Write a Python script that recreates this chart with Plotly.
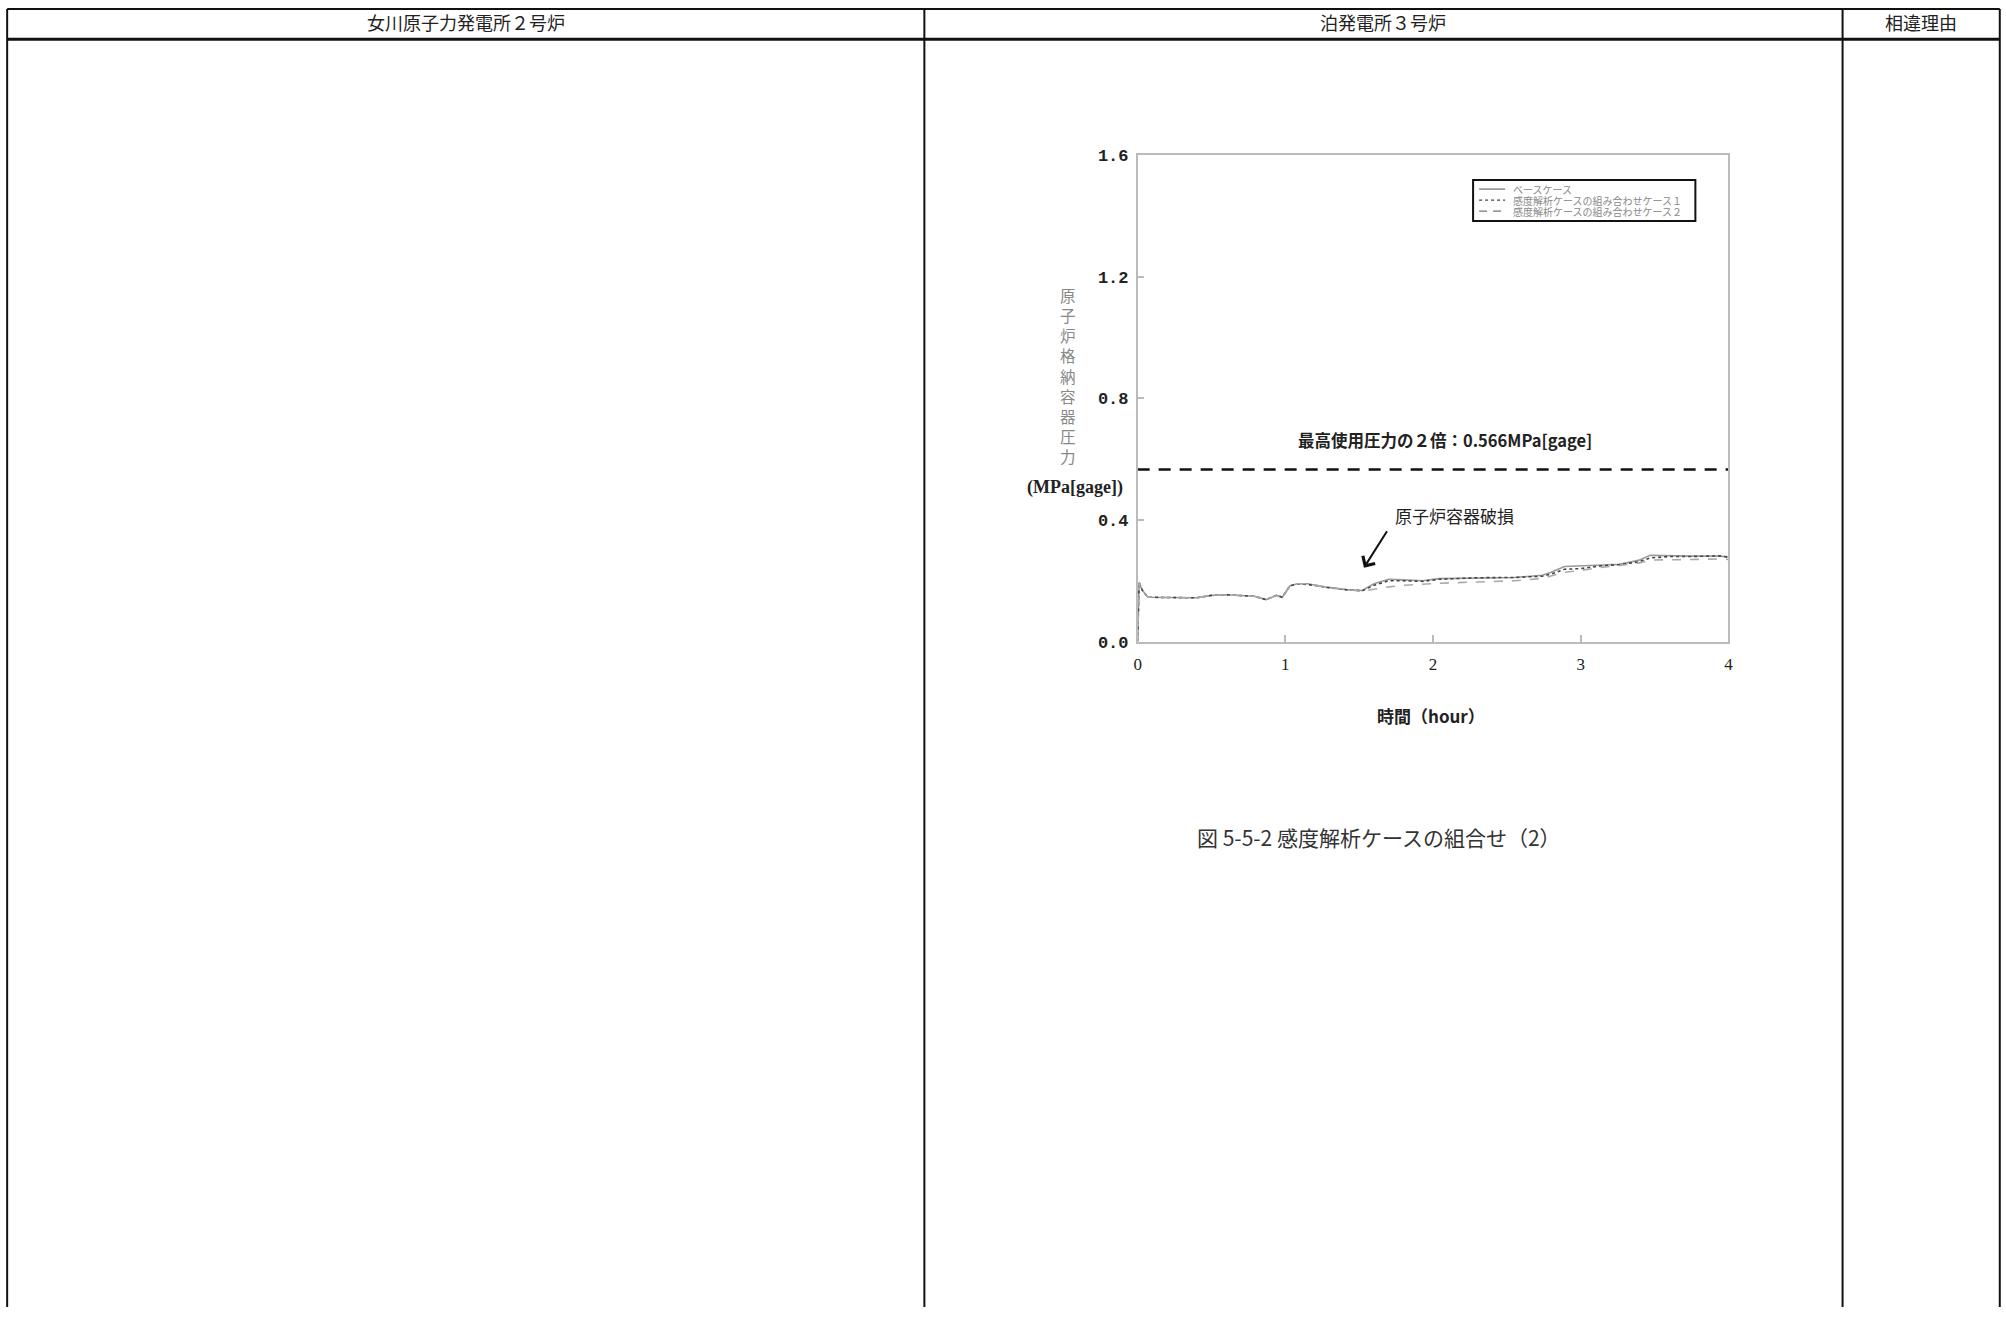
import plotly.graph_objects as go

W, H = 2006, 1318

# ---- data ----
time_h = [0, 0.01, 0.03, 0.07, 0.2, 0.4, 0.5, 0.6, 0.79, 0.87, 0.94, 0.98, 1.03, 1.08,
          1.15, 1.28, 1.41, 1.52, 1.6, 1.7, 1.8, 1.93, 2.04, 2.3, 2.55, 2.74, 2.8, 2.89,
          3.0, 3.15, 3.26, 3.39, 3.47, 3.6, 3.75, 3.94, 4.0]
base_case = [0.0, 0.195, 0.17, 0.146, 0.145, 0.144, 0.152, 0.154, 0.149, 0.138, 0.152, 0.146,
             0.183, 0.19, 0.19, 0.179, 0.171, 0.168, 0.19, 0.205, 0.203, 0.2, 0.207, 0.209,
             0.211, 0.218, 0.228, 0.247, 0.25, 0.252, 0.254, 0.267, 0.284, 0.282, 0.281,
             0.281, 0.278]
combo_case1 = [0.0, 0.195, 0.17, 0.146, 0.145, 0.144, 0.152, 0.154, 0.149, 0.138, 0.152, 0.146,
               0.183, 0.19, 0.188, 0.178, 0.171, 0.167, 0.185, 0.2, 0.2, 0.198, 0.205, 0.21,
               0.211, 0.215, 0.222, 0.238, 0.24, 0.25, 0.253, 0.262, 0.275, 0.28, 0.28,
               0.282, 0.278]
combo_case2 = [0.0, 0.195, 0.17, 0.146, 0.145, 0.144, 0.152, 0.154, 0.149, 0.138, 0.152, 0.146,
               0.183, 0.19, 0.19, 0.179, 0.171, 0.166, 0.172, 0.18, 0.185, 0.19, 0.192, 0.196,
               0.2, 0.208, 0.215, 0.228, 0.234, 0.245, 0.25, 0.258, 0.268, 0.27, 0.27,
               0.272, 0.27]
limit_value = 0.566
series_names = ["ベースケース", "感度解析ケースの組み合わせケース１", "感度解析ケースの組み合わせケース２"]
x_ticks = [0, 1, 2, 3, 4]
y_ticks = [0.0, 0.4, 0.8, 1.2, 1.6]
headers = ["女川原子力発電所２号炉", "泊発電所３号炉", "相違理由"]

CJK = "Noto Sans CJK JP"
SERIF = "Liberation Serif"
MONO = "Liberation Mono"


# page-pixel targets -> paper fractions (small calibration for the capture)
def px(x):
    return ((x - 3.85) / 0.9942) / W


def py(y):
    return 1 - ((y - 7.7) / 0.9867) / H


series_styles = [dict(color="#9a9a9a", width=1.6, dash="solid"),
                 dict(color="#444444", width=1.6, dash="dot"),
                 dict(color="#aaaaaa", width=1.6, dash="dash")]

fig = go.Figure()
for name, vals, st in zip(series_names, [base_case, combo_case1, combo_case2], series_styles):
    fig.add_trace(go.Scatter(x=time_h, y=vals, mode="lines", name=name, line=st, showlegend=False))
fig.add_trace(go.Scatter(x=[0, 4], y=[limit_value, limit_value], mode="lines",
                         showlegend=False, hoverinfo="skip",
                         line=dict(color="#111111", width=2.5, dash="12px,9px")))

# table lines
shapes = []
line_k = dict(color="#111111", width=2)
X_LEFT, X_RIGHT = max(px(7), 1.0 / W), px(1997)
Y_TOP, Y_BOT = min(py(4.5), 1 - 1.0 / H), 0
shapes.append(dict(type="line", xref="paper", yref="paper", x0=X_LEFT, x1=X_RIGHT, y0=Y_TOP, y1=Y_TOP, line=line_k))
shapes.append(dict(type="line", xref="paper", yref="paper", x0=X_LEFT, x1=X_RIGHT, y0=py(39), y1=py(39),
                   line=dict(color="#111111", width=3)))
for xv in [X_LEFT, px(923), px(1840), X_RIGHT]:
    shapes.append(dict(type="line", xref="paper", yref="paper", x0=xv, x1=xv, y0=Y_TOP, y1=Y_BOT,
                       line=line_k))

# legend box drawn by hand (compact, like the reference)
shapes.append(dict(type="rect", xref="paper", yref="paper", x0=px(1471), x1=px(1693), y0=py(180), y1=py(221),
                   line=dict(color="#111111", width=2), fillcolor="white", layer="above"))
legend_rows = [189, 200, 211]
legend_line_styles = [dict(color="#777777", width=1.3, dash="solid"),
                      dict(color="#444444", width=1.3, dash="dot"),
                      dict(color="#777777", width=1.3, dash="8px,6px")]

annotations = []
for name, yr, st in zip(series_names, legend_rows, legend_line_styles):
    shapes.append(dict(type="line", xref="paper", yref="paper", x0=px(1477), x1=px(1503),
                       y0=py(yr), y1=py(yr), line=st, layer="above"))
    annotations.append(dict(text=name, xref="paper", yref="paper", x=px(1509), y=py(yr),
                            showarrow=False, xanchor="left", yanchor="middle",
                            font=dict(family=CJK, size=10, color="#888888")))

for txt, xc in zip(headers, [465, 1381, 1918]):
    annotations.append(dict(text=txt, xref="paper", yref="paper", x=px(xc), y=py(22),
                            showarrow=False, xanchor="center", yanchor="middle",
                            font=dict(family=CJK, size=18, color="#222222")))

# vertical y-axis label
annotations.append(dict(text="<br>".join(list("原子炉格納容器圧力")), xref="paper", yref="paper",
                        x=px(1066), y=py(376), showarrow=False, xanchor="center", yanchor="middle",
                        font=dict(family=CJK, size=15.5, color="#888888")))
annotations.append(dict(text="<b>(MPa[gage])</b>", xref="paper", yref="paper", x=px(1073), y=py(488),
                        showarrow=False, xanchor="center", yanchor="middle",
                        font=dict(family=SERIF, size=18, color="#222222")))
annotations.append(dict(text="<b>最高使用圧力の２倍：0.566MPa[gage]</b>", xref="paper", yref="paper",
                        x=px(1443), y=py(440), showarrow=False, xanchor="center", yanchor="middle",
                        font=dict(family=CJK, size=16.5, color="#222222")))
annotations.append(dict(text="原子炉容器破損", xref="paper", yref="paper", x=px(1452), y=py(516),
                        showarrow=False, xanchor="center", yanchor="middle",
                        font=dict(family=CJK, size=17, color="#222222")))
annotations.append(dict(text="", xref="paper", yref="paper", x=px(1362), y=py(568),
                        showarrow=True, ax=24, ay=-38, arrowhead=4, arrowsize=1.4, arrowwidth=2,
                        arrowcolor="#111111"))
annotations.append(dict(text="<b>時間（hour）</b>", xref="paper", yref="paper", x=px(1429), y=py(716),
                        showarrow=False, xanchor="center", yanchor="middle",
                        font=dict(family=CJK, size=17, color="#222222")))
annotations.append(dict(text="図 5-5-2 感度解析ケースの組合せ（2）", xref="paper", yref="paper",
                        x=px(1377), y=py(838), showarrow=False, xanchor="center", yanchor="middle",
                        font=dict(family=CJK, size=21, color="#333333")))

fig.update_layout(
    width=W, height=H, autosize=False,
    margin=dict(l=0, r=0, t=0, b=0, pad=0),
    paper_bgcolor="white", plot_bgcolor="white",
    shapes=shapes, annotations=annotations,
    showlegend=False,
    xaxis=dict(domain=[px(1136), px(1726)], range=[0, 4], tickvals=x_ticks,
               ticktext=[str(v) for v in x_ticks], showgrid=False, zeroline=False,
               showline=True, linecolor="#bbbbbb", linewidth=1.5, mirror=True,
               ticks="inside", ticklen=7, tickcolor="#bbbbbb", tickwidth=1.5,
               tickfont=dict(family=SERIF, size=17, color="#222222"), ticklabelstandoff=6),
    yaxis=dict(domain=[py(642), py(155)], range=[0, 1.6], tickvals=y_ticks,
               ticktext=["<b>%.1f</b>" % v for v in y_ticks], showgrid=False, zeroline=False,
               showline=True, linecolor="#bbbbbb", linewidth=1.5, mirror=True,
               ticks="inside", ticklen=7, tickcolor="#bbbbbb", tickwidth=1.5,
               tickfont=dict(family=MONO, size=17, color="#222222"), ticklabelstandoff=4),
)

fig.write_html("out.html", config={"displayModeBar": False},
               post_script="document.body.style.margin='0';document.documentElement.style.overflow='hidden';")
